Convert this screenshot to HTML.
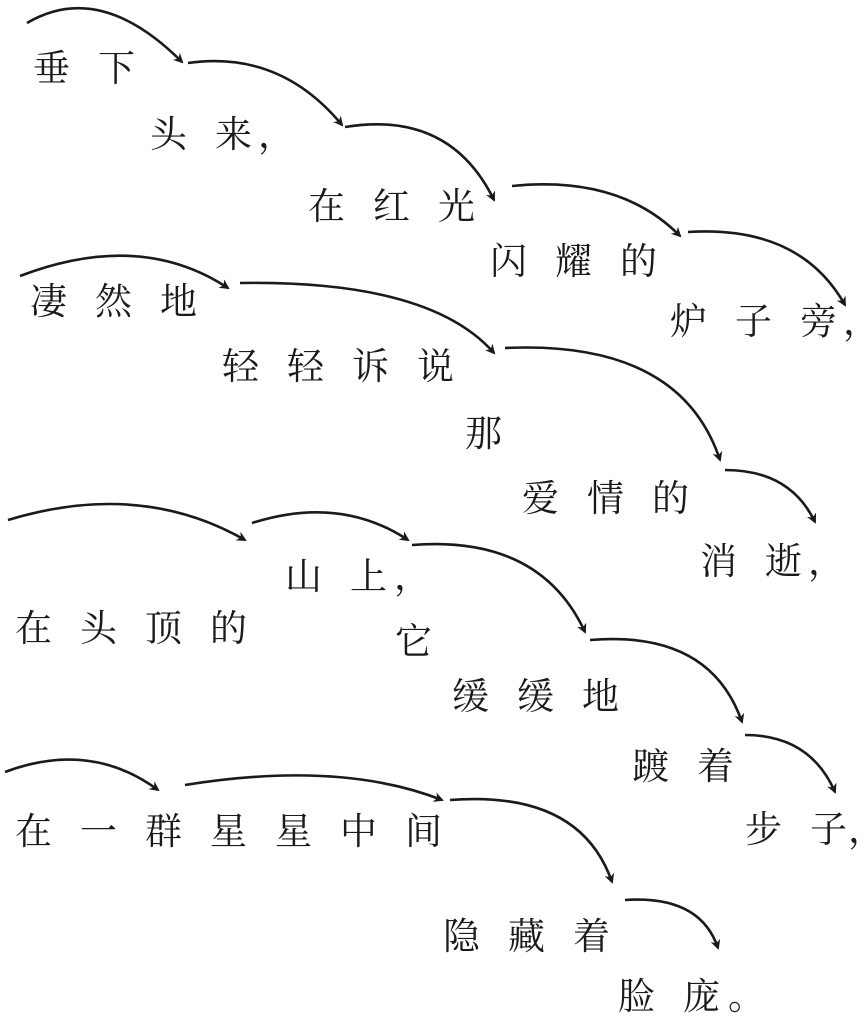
<!DOCTYPE html>
<html><head><meta charset="utf-8"><style>
html,body{margin:0;padding:0;background:#fff;}
svg{display:block;}
text{font-family:"Noto Serif CJK SC","Noto Sans CJK SC",serif;font-size:37px;letter-spacing:28px;fill:#1a1a1a;}
text.p{letter-spacing:0;}
path{fill:none;stroke:#1a1a1a;stroke-width:2.6;}
</style></head><body>
<svg width="864" height="1016" viewBox="0 0 864 1016" xmlns="http://www.w3.org/2000/svg">
<defs><marker id="a" markerWidth="10" markerHeight="10" refX="8" refY="5" orient="auto" markerUnits="userSpaceOnUse"><path d="M0,0 L10,5 L0,10 L3,5 Z" style="fill:#1a1a1a;stroke:none"/></marker></defs>
<g>
<text x="33" y="81">垂下</text>
<text x="150" y="147">头来</text><text class="p" x="258" y="147">，</text>
<text x="308" y="219">在红光</text>
<text x="490" y="274">闪耀的</text>
<text x="670" y="334">炉子旁</text><text class="p" x="843" y="334">，</text>
<text x="30" y="314">凄然地</text>
<text x="222" y="379">轻轻诉说</text>
<text x="465" y="446">那</text>
<text x="522" y="511">爱情的</text>
<text x="700" y="574">消逝</text><text class="p" x="808" y="574">，</text>
<text x="285" y="589">山上</text><text class="p" x="394" y="589">，</text>
<text x="15" y="641">在头顶的</text>
<text x="395" y="654">它</text>
<text x="452" y="709">缓缓地</text>
<text x="632" y="779">踱着</text>
<text x="745" y="842">步子</text><text class="p" x="848" y="842">，</text>
<text x="15" y="844">在一群星星中间</text>
<text x="443" y="949">隐藏着</text>
<text x="618" y="1009">脸庞</text><text class="p" x="728" y="1009">。</text>
</g>
<g marker-end="url(#a)">
<path d="M27,23 Q100,-20 182,62"/>
<path d="M188,63 Q280,50 342,125"/>
<path d="M345,127 Q450,110 494,200"/>
<path d="M512,186 Q620,175 680,236"/>
<path d="M688,232 Q800,225 845,305"/>
<path d="M20,276 Q140,230 228,288"/>
<path d="M240,283 Q430,280 494,353"/>
<path d="M505,348 Q680,340 720,460"/>
<path d="M725,470 Q790,470 815,522"/>
<path d="M8,520 Q140,480 245,540"/>
<path d="M252,523 Q340,495 408,540"/>
<path d="M412,545 Q540,535 585,632"/>
<path d="M590,640 Q710,630 742,722"/>
<path d="M745,735 Q810,735 835,792"/>
<path d="M5,772 Q90,740 158,790"/>
<path d="M185,785 Q340,760 442,800"/>
<path d="M450,800 Q580,790 612,882"/>
<path d="M625,900 Q700,895 718,948"/>
</g>
</svg>
</body></html>
